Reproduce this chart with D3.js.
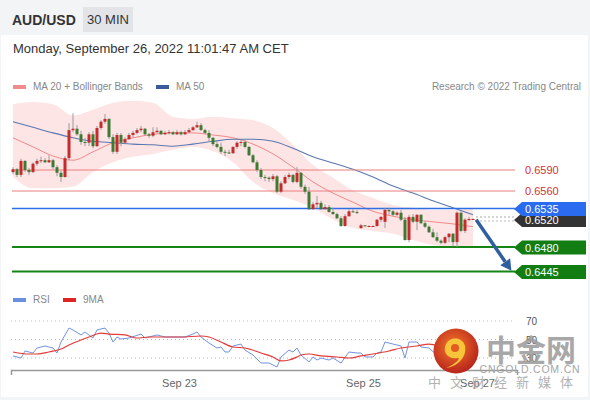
<!DOCTYPE html>
<html>
<head>
<meta charset="utf-8">
<script src="https://cdn.jsdelivr.net/npm/d3@7"></script>
<style>
  body { margin: 0; background: #fff; }
</style>
</head>
<body>
<script>
// 30 min candles, Sep 22 -> Sep 26 11:00 CET : [open, high, low, close]
var ohlc = [
  [0.6587,0.6594,0.6584,0.6591],[0.6591,0.6593,0.6580,0.6583],[0.6583,0.6606,0.6580,0.6603],
  [0.6603,0.6604,0.6587,0.6590],[0.6590,0.6593,0.6583,0.6587],[0.6587,0.6601,0.6586,0.6599],
  [0.6599,0.6606,0.6596,0.6603],[0.6603,0.6609,0.6600,0.6604],[0.6604,0.6607,0.6600,0.6601],
  [0.6601,0.6611,0.6600,0.6604],[0.6604,0.6606,0.6591,0.6594],[0.6594,0.6597,0.6581,0.6586],
  [0.6586,0.6589,0.6573,0.6580],[0.6580,0.6610,0.6579,0.6607],[0.6607,0.6657,0.6604,0.6647],
  [0.6647,0.6671,0.6644,0.6649],[0.6649,0.6654,0.6639,0.6641],[0.6641,0.6646,0.6626,0.6630],
  [0.6630,0.6636,0.6624,0.6629],[0.6629,0.6644,0.6624,0.6641],[0.6641,0.6646,0.6621,0.6624],
  [0.6624,0.6653,0.6623,0.6650],[0.6650,0.6661,0.6647,0.6659],[0.6659,0.6670,0.6656,0.6663],
  [0.6663,0.6664,0.6634,0.6637],[0.6637,0.6641,0.6613,0.6616],[0.6616,0.6643,0.6613,0.6640],
  [0.6640,0.6643,0.6624,0.6629],
  [0.6629,0.6637,0.6627,0.6634],[0.6634,0.6643,0.6633,0.6640],[0.6640,0.6646,0.6637,0.6643],
  [0.6643,0.6650,0.6641,0.6647],[0.6647,0.6653,0.6644,0.6649],[0.6649,0.6650,0.6639,0.6641],
  [0.6641,0.6643,0.6636,0.6639],[0.6639,0.6651,0.6637,0.6644],[0.6644,0.6651,0.6643,0.6646],
  [0.6646,0.6647,0.6640,0.6641],[0.6641,0.6646,0.6640,0.6643],[0.6643,0.6647,0.6641,0.6644],
  [0.6644,0.6646,0.6640,0.6641],[0.6641,0.6647,0.6640,0.6644],[0.6644,0.6646,0.6639,0.6641],
  [0.6641,0.6647,0.6640,0.6644],[0.6644,0.6650,0.6643,0.6647],[0.6647,0.6653,0.6646,0.6651],
  [0.6651,0.6659,0.6650,0.6654],[0.6654,0.6657,0.6646,0.6647],[0.6647,0.6649,0.6641,0.6643],
  [0.6643,0.6647,0.6630,0.6636],[0.6636,0.6637,0.6624,0.6627],[0.6627,0.6630,0.6621,0.6623],
  [0.6623,0.6629,0.6613,0.6616],[0.6616,0.6619,0.6610,0.6615],[0.6615,0.6619,0.6613,0.6614],
  [0.6614,0.6624,0.6613,0.6623],[0.6623,0.6631,0.6620,0.6629],
  [0.6629,0.6633,0.6624,0.6630],[0.6630,0.6633,0.6621,0.6623],[0.6623,0.6624,0.6610,0.6611],
  [0.6611,0.6613,0.6600,0.6601],[0.6601,0.6604,0.6587,0.6590],[0.6590,0.6593,0.6577,0.6580],
  [0.6580,0.6583,0.6574,0.6579],[0.6579,0.6581,0.6573,0.6577],[0.6577,0.6584,0.6574,0.6581],
  [0.6581,0.6583,0.6557,0.6559],[0.6559,0.6574,0.6557,0.6571],[0.6571,0.6583,0.6570,0.6580],
  [0.6580,0.6586,0.6577,0.6583],[0.6583,0.6584,0.6571,0.6573],[0.6573,0.6594,0.6571,0.6586],
  [0.6586,0.6587,0.6563,0.6566],[0.6566,0.6569,0.6556,0.6559],[0.6559,0.6566,0.6533,0.6534],
  [0.6534,0.6544,0.6533,0.6541],[0.6541,0.6553,0.6536,0.6543],[0.6543,0.6546,0.6533,0.6534],
  [0.6534,0.6541,0.6534,0.6537],[0.6537,0.6540,0.6529,0.6530],[0.6530,0.6536,0.6526,0.6527],
  [0.6527,0.6529,0.6520,0.6521],[0.6521,0.6524,0.6509,0.6510],[0.6510,0.6527,0.6509,0.6524],
  [0.6524,0.6534,0.6523,0.6531],[0.6531,0.6534,0.6529,0.6530],[0.6530,0.6533,0.6527,0.6529],
  [0.6507,0.6513,0.6506,0.6511],[0.6511,0.6511,0.6509,0.6510],[0.6510,0.6511,0.6509,0.6510],
  [0.6510,0.6511,0.6509,0.6510],[0.6510,0.6520,0.6509,0.6519],[0.6519,0.6524,0.6516,0.6523],
  [0.6516,0.6536,0.6507,0.6533],[0.6533,0.6536,0.6526,0.6531],[0.6531,0.6533,0.6524,0.6526],
  [0.6526,0.6531,0.6524,0.6529],[0.6529,0.6533,0.6517,0.6519],[0.6519,0.6523,0.6489,0.6490],
  [0.6490,0.6526,0.6487,0.6523],[0.6523,0.6527,0.6514,0.6516],[0.6516,0.6527,0.6504,0.6526],
  [0.6526,0.6527,0.6513,0.6514],[0.6514,0.6517,0.6507,0.6509],[0.6509,0.6511,0.6500,0.6501],
  [0.6501,0.6506,0.6493,0.6494],[0.6494,0.6501,0.6487,0.6489],[0.6489,0.6491,0.6484,0.6486],
  [0.6486,0.6496,0.6484,0.6494],[0.6494,0.6500,0.6487,0.6499],[0.6499,0.6500,0.6481,0.6487],
  [0.6487,0.6531,0.6480,0.6529],[0.6529,0.6531,0.6501,0.6503],[0.6503,0.6521,0.6500,0.6519],
  [0.6519,0.6523,0.6517,0.6520],[0.6520,0.6521,0.6519,0.6520]
];

// moving averages / bands, read every 5 candles
var maIdx = [0,5,10,15,20,25,30,35,40,45,50,55,60,65,70,75,80,85,90,95,100,105,110,115];
var bbUpper = [0.6684,0.6687,0.6684,0.6668,0.6676,0.6686,0.6689,0.6686,0.6666,0.6663,0.6666,0.6664,
               0.6661,0.6650,0.6626,0.6597,0.6579,0.6561,0.6550,0.6540,0.6536,0.6533,0.6533,0.6536];
var bbLower = [0.6580,0.6564,0.6564,0.6566,0.6587,0.6601,0.6609,0.6613,0.6619,0.6623,0.6617,0.6601,
               0.6573,0.6557,0.6547,0.6536,0.6519,0.6507,0.6503,0.6499,0.6490,0.6483,0.6480,0.6480];
var ma20 = [0.6636,0.6623,0.6610,0.6604,0.6616,0.6629,0.6636,0.6641,0.6643,0.6643,0.6640,0.6636,
            0.6627,0.6613,0.6594,0.6573,0.6557,0.6544,0.6531,0.6524,0.6519,0.6516,0.6513,0.6509];
var ma50 = [0.6659,0.6651,0.6643,0.6636,0.6631,0.6629,0.6627,0.6626,0.6624,0.6627,0.6631,0.6634,
            0.6634,0.6631,0.6621,0.6609,0.6600,0.6591,0.6580,0.6567,0.6557,0.6546,0.6536,0.6526];

// RSI and its 9 period MA
var rsiIdx = [0,2,3,5,6,8,10,11,12,14,15,17,18,20,21,23,24,25,26,27,29,32,33,36,38,41,43,45,46,47,
              49,51,52,53,54,55,57,58,60,62,64,66,67,69,70,71,72,74,75,76,77,79,80,82,84,86,87,88,90,91,
              92,93,95,97,98,99,101,102,104,106,108,110,111,112,113,115];
var rsi = [32.2,30.0,37.6,35.4,40.8,43.0,40.8,35.4,47.3,62.4,60.3,54.9,58.1,51.6,60.3,62.4,57.0,47.3,52.7,50.5,
           51.6,55.9,51.6,54.9,52.7,52.7,52.7,55.9,58.1,52.7,46.2,40.8,41.9,36.5,36.5,43.0,45.1,38.6,33.2,24.6,
           24.6,20.3,31.1,38.6,36.5,40.8,33.2,25.7,31.1,27.8,30.0,27.8,30.0,24.6,36.5,35.4,35.4,31.1,31.1,35.4,
           36.5,47.3,45.1,43.0,30.0,47.3,47.3,41.9,40.8,33.0,30.0,28.0,45.0,38.0,43.0,43.0];
var rsiMaIdx = [0,4,6,9,12,14,17,19,22,24,28,31,34,38,42,47,49,52,55,58,62,65,67,69,71,72,74,77,81,84,
                87,90,94,97,101,104,108,112,115];
var rsiMa = [36.5,34.3,34.3,36.5,39.7,44.1,49.5,52.7,57.0,55.9,54.9,51.6,52.7,52.7,52.7,53.8,52.7,47.3,41.9,40.8,
             35.4,31.1,26.8,27.8,31.1,33.2,34.3,32.2,31.1,30.0,32.2,34.3,37.6,40.8,43.0,45.1,42.0,40.0,41.0];
var rsiLevels = [70, 50, 30];

// key levels
var levels = [0.6590, 0.6560, 0.6520, 0.6535, 0.6480, 0.6445];
var levelKind = ["res", "res", "last", "ma", "sup", "sup"];

var tickIdx = [41.5, 87.5, 116];
var tickLabels = ["Sep 23", "Sep 25", "Sep 27"];

var arrowFrom = [115.8, 0.6519], arrowTo = [124.6, 0.6446];

var W = 590, H = 400;
var font = "'Liberation Sans', Arial, sans-serif";

var x = d3.scaleLinear().domain([0, ohlc.length - 1]).range([13, 473]);
var y = d3.scaleLinear().domain([0.6560, 0.6590]).range([191, 170]);
var yr = d3.scaleLinear().domain([30, 70]).range([358, 321]);

var svg = d3.select("body").append("svg")
  .attr("width", W)
  .attr("height", H)
  .style("font-family", font);

// page background
svg.append("rect").attr("width", W).attr("height", H).attr("fill", "#f3f4f6");
svg.append("rect").attr("x", 1).attr("y", 35).attr("width", W - 3).attr("height", H - 38).attr("fill", "#fff");

// header
svg.append("text").attr("x", 12).attr("y", 25)
  .attr("font-size", 14).attr("font-weight", "bold").attr("fill", "#333")
  .text("AUD/USD");
svg.append("rect").attr("x", 83).attr("y", 7).attr("width", 50).attr("height", 25).attr("fill", "#e2e4e8");
svg.append("text").attr("x", 108).attr("y", 24).attr("text-anchor", "middle")
  .attr("font-size", 13).attr("fill", "#333").text("30 MIN");
svg.append("text").attr("x", 13).attr("y", 53)
  .attr("font-size", 13).attr("fill", "#333")
  .text("Monday, September 26, 2022 11:01:47 AM CET");

// legend
function legendItem(lx, ly, color, label) {
  svg.append("rect").attr("x", lx).attr("y", ly - 5).attr("width", 13).attr("height", 4).attr("fill", color);
  svg.append("text").attr("x", lx + 20).attr("y", ly).attr("font-size", 10).attr("fill", "#888").text(label);
}
legendItem(13, 90, "#f28b8b", "MA 20 + Bollinger Bands");
legendItem(156, 90, "#3a5a9a", "MA 50");
svg.append("text").attr("x", 581).attr("y", 90).attr("text-anchor", "end")
  .attr("font-size", 10).attr("fill", "#888").text("Research \u00a9 2022 Trading Central");

// bollinger band + moving averages
var band = d3.area()
  .x(function(d, i) { return x(maIdx[i]); })
  .y0(function(d, i) { return y(bbLower[i]); })
  .y1(function(d, i) { return y(bbUpper[i]); })
  .curve(d3.curveMonotoneX);

svg.append("path").attr("d", band(maIdx)).attr("fill", "#fde0e0").attr("opacity", 0.85);

var maLine = function(vals) {
  return d3.line()
    .x(function(d, i) { return x(maIdx[i]); })
    .y(function(d) { return y(d); })
    .curve(d3.curveMonotoneX)(vals);
};

svg.append("path").attr("d", maLine(ma20)).attr("fill", "none").attr("stroke", "#f08a8a").attr("stroke-width", 1);
svg.append("path").attr("d", maLine(ma50)).attr("fill", "none").attr("stroke", "#5b77b0").attr("stroke-width", 1.1);

// horizontal levels
var lineX0 = x(-0.25), lineX1 = x(125.5), boxX = x(125.5), boxRight = 586;

levels.forEach(function(v, i) {
  var kind = levelKind[i], ly = y(v);
  if (kind == "res") {
    svg.append("line").attr("x1", lineX0).attr("x2", lineX1).attr("y1", ly).attr("y2", ly)
      .attr("stroke", "#ec7f7f").attr("stroke-width", 1);
  } else if (kind == "ma") {
    svg.append("line").attr("x1", lineX0).attr("x2", lineX1).attr("y1", ly).attr("y2", ly)
      .attr("stroke", "#2d6fe6").attr("stroke-width", 1.5);
  } else if (kind == "sup") {
    svg.append("line").attr("x1", lineX0).attr("x2", lineX1).attr("y1", ly).attr("y2", ly)
      .attr("stroke", "#158515").attr("stroke-width", 2);
  } else {
    svg.append("line").attr("x1", x(ohlc.length - 1) + 3).attr("x2", lineX1).attr("y1", ly - 2).attr("y2", ly - 2)
      .attr("stroke", "#aaa").attr("stroke-dasharray", "2,2");
    svg.append("line").attr("x1", x(ohlc.length - 1) + 3).attr("x2", lineX1).attr("y1", ly + 2).attr("y2", ly + 2)
      .attr("stroke", "#bbb").attr("stroke-dasharray", "2,2");
  }
});

// candles
var candles = svg.append("g");
ohlc.forEach(function(d, i) {
  var up = d[3] >= d[0];
  var col = up ? "#c62a2a" : "#3f7a33";
  candles.append("line")
    .attr("x1", x(i)).attr("x2", x(i))
    .attr("y1", y(d[1])).attr("y2", y(d[2]))
    .attr("stroke", "#999").attr("stroke-width", 1);
  var top = y(Math.max(d[0], d[3])), bot = y(Math.min(d[0], d[3]));
  candles.append("rect")
    .attr("x", x(i) - 1.5).attr("width", 3)
    .attr("y", top).attr("height", Math.max(1, bot - top))
    .attr("fill", col);
});

// level labels
levels.forEach(function(v, i) {
  var kind = levelKind[i], ly = y(v);
  var txt = v.toFixed(4);
  if (kind == "res") {
    svg.append("text").attr("x", 525).attr("y", ly + 4).attr("font-size", 11)
      .attr("fill", "#d63030").text(txt);
    return;
  }
  var fill = kind == "ma" ? "#2a6cf0" : kind == "sup" ? "#127d12" : "#333";
  var cy = kind == "last" ? ly + 1 : ly + 0.5;
  svg.append("path")
    .attr("d", "M" + (boxX - 1) + "," + cy + "L" + (boxX + 7) + "," + (cy - 7) + "H" + boxRight +
      "V" + (cy + 7) + "H" + (boxX + 7) + "Z")
    .attr("fill", fill);
  svg.append("text").attr("x", 525).attr("y", cy + 4).attr("font-size", 11)
    .attr("fill", "#fff").text(txt);
});

// forecast arrow
var ax0 = x(arrowFrom[0]), ay0 = y(arrowFrom[1]), ax1 = x(arrowTo[0]), ay1 = y(arrowTo[1]);
var ang = Math.atan2(ay1 - ay0, ax1 - ax0), hl = 11, hw = 6;
var bx = ax1 - hl * Math.cos(ang), by = ay1 - hl * Math.sin(ang);
svg.append("line").attr("x1", ax0).attr("y1", ay0).attr("x2", bx).attr("y2", by)
  .attr("stroke", "#2f5f9f").attr("stroke-width", 3.5);
svg.append("path")
  .attr("d", "M" + ax1 + "," + ay1 +
    "L" + (bx + hw * Math.sin(ang)) + "," + (by - hw * Math.cos(ang)) +
    "L" + (bx - hw * Math.sin(ang)) + "," + (by + hw * Math.cos(ang)) + "Z")
  .attr("fill", "#2f5f9f");

// RSI panel
legendItem(13, 303, "#6a8ee0", "RSI");
legendItem(63, 303, "#e02424", "9MA");

rsiLevels.forEach(function(v) {
  svg.append("line").attr("x1", x(-0.5)).attr("x2", lineX1).attr("y1", yr(v)).attr("y2", yr(v))
    .attr("stroke", "#bbb").attr("stroke-dasharray", "1,3");
  svg.append("text").attr("x", 526).attr("y", yr(v) + 4).attr("font-size", 10).attr("fill", "#555").text(v);
});

svg.append("path")
  .attr("d", d3.line().x(function(d, i) { return x(rsiIdx[i]); }).y(function(d) { return yr(d); })(rsi))
  .attr("fill", "none").attr("stroke", "#7193e0").attr("stroke-width", 1);
svg.append("path")
  .attr("d", d3.line().x(function(d, i) { return x(rsiMaIdx[i]); }).y(function(d) { return yr(d); })
    .curve(d3.curveMonotoneX)(rsiMa))
  .attr("fill", "none").attr("stroke", "#e33a3a").attr("stroke-width", 1.2);

// time axis
var xAxisScale = d3.scaleLinear().domain([-0.5, 126]).range([x(-0.5), x(126)]);
var xAxis = svg.append("g")
  .attr("transform", "translate(0,370)")
  .call(d3.axisBottom(xAxisScale)
    .tickValues(tickIdx)
    .tickFormat(function(d, i) { return tickLabels[i]; })
    .tickSizeInner(0)
    .tickSizeOuter(5)
    .tickPadding(9));
xAxis.select(".domain").attr("stroke", "#999").attr("stroke-width", 1.5);
xAxis.selectAll("text").attr("font-size", 11).attr("fill", "#666").attr("font-family", font);

// watermark
var defs = svg.append("defs");
var rg = defs.append("radialGradient").attr("id", "logoGrad").attr("cx", "45%").attr("cy", "40%").attr("r", "60%");
rg.append("stop").attr("offset", "0%").attr("stop-color", "#f47a2a");
rg.append("stop").attr("offset", "100%").attr("stop-color", "#b8241c");
var wm = svg.append("g");
wm.append("circle").attr("cx", 456).attr("cy", 351).attr("r", 22.5).attr("fill", "url(#logoGrad)");
wm.append("path")
  .attr("d", "M458,358 C448,360 442,352 446,344 C450,336 463,337 465,346 C467,356 459,366 446,368 C456,364 461,358 458,358 Z")
  .attr("fill", "#f8c53a");
wm.append("circle").attr("cx", 455).attr("cy", 348).attr("r", 4).attr("fill", "#e55a22");
wm.append("text").attr("x", 531).attr("y", 361).attr("text-anchor", "middle")
  .attr("font-family", "'Noto Sans CJK SC', sans-serif").attr("font-weight", "bold")
  .attr("font-size", 30).attr("fill", "#9a9a9a").attr("opacity", 0.85).text("中金网");
wm.append("text").attr("x", 530).attr("y", 373).attr("text-anchor", "middle")
  .attr("font-size", 10.5).attr("letter-spacing", 0.8).attr("fill", "#a5a5a5").text("CNGOLD.COM.CN");
wm.append("text").attr("x", 505).attr("y", 387).attr("text-anchor", "middle")
  .attr("font-family", "'Noto Sans CJK SC', sans-serif")
  .attr("font-size", 13).attr("letter-spacing", 9).attr("fill", "#aaa").attr("opacity", 0.9)
  .text("中文财经新媒体");
</script>
</body>
</html>
